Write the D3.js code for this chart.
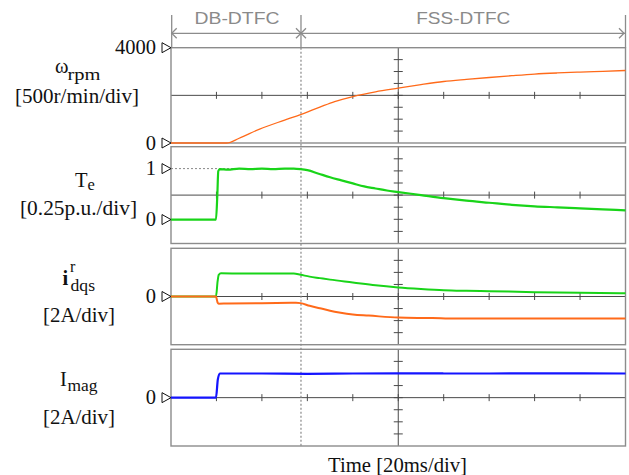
<!DOCTYPE html>
<html>
<head>
<meta charset="utf-8">
<script src="https://cdn.jsdelivr.net/npm/d3@7"></script>
<style>
  html, body { margin: 0; padding: 0; background: #fff; }
  svg { display: block; }
</style>
</head>
<body>
<svg id="chart" width="629" height="475"></svg>
<script>
// ---------------- data ----------------
const timeDomainMs = [0, 200];          // 10 div x 20 ms
const phaseLabels = ["DB-DTFC", "FSS-DTFC"];
const phaseSwitchMs = 57.2;

// speed (rpm)
const speedT = [0, 24.5, 30, 39, 50, 57, 65.5, 72, 80, 90, 100, 110, 120, 130, 140, 150, 160, 170, 180, 190, 200];
const speedV = [0, 0, 200, 586, 960, 1190, 1506, 1740, 1950, 2150, 2303, 2450, 2581, 2670, 2750, 2825, 2893, 2940, 2977, 3010, 3044];

// electromagnetic torque (p.u.)
const torqueT = [0, 19.8, 20.4, 20.8, 21.5, 25, 30, 35, 40, 45, 50, 54, 57, 60, 65, 70, 75, 80, 85, 90, 95, 100, 110, 120, 130, 140, 150, 160, 170, 180, 190, 200];
const torqueV = [0, 0, 0.5, 0.95, 0.99, 0.98, 1.0, 0.99, 1.0, 0.99, 1.0, 1.0, 0.99, 0.97, 0.9, 0.83, 0.77, 0.71, 0.65, 0.61, 0.57, 0.54, 0.48, 0.42, 0.37, 0.33, 0.29, 0.26, 0.24, 0.22, 0.2, 0.18];

// rotor-frame dq currents (A)
const iqT = [0, 19.8, 20.5, 21, 22, 30, 40, 50, 54, 57, 61, 65.5, 70, 80, 90, 100, 110, 120, 130, 140, 160, 180, 200];
const iqV = [0, 0, 2.5, 3.6, 3.85, 3.82, 3.8, 3.8, 3.8, 3.6, 3.3, 3.05, 2.8, 2.33, 1.85, 1.5, 1.25, 1.05, 0.95, 0.88, 0.72, 0.62, 0.55];
const idT = [0, 19.8, 20.5, 21, 25, 40, 55, 57, 61, 65.5, 70, 74, 80, 87, 100, 115, 125, 200];
const idV = [0, 0, -1.0, -1.2, -1.15, -1.1, -1.05, -1.1, -1.55, -1.95, -2.35, -2.65, -3.0, -3.17, -3.5, -3.58, -3.67, -3.67];

// magnetizing current (A)
const imagT = [0, 19.8, 20.6, 21.5, 40, 60, 80, 100, 120, 140, 160, 180, 200];
const imagV = [0, 0, 3.0, 4.0, 4.0, 3.95, 4.0, 4.02, 4.0, 4.0, 4.02, 4.03, 4.0];

// y ranges of each panel (units)
const speedDomain = [0, 4000];
const torqueDomain = [-0.47, 1.43];
const currentDomain = [-8, 8];

// level markers
const speedMarks = [4000, 0];
const torqueMarks = [1, 0];
const currentMarks = [0];
const imagMarks = [0];

// ---------------- layout ----------------
const svg = d3.select("#chart");
const X0 = 171, X1 = 625.5;
const x = d3.scaleLinear().domain(timeDomainMs).range([X0, X1]);

const panels = [
  { top: 47.7, bottom: 143, domain: speedDomain, marks: speedMarks },
  { top: 146.7, bottom: 243.5, domain: torqueDomain, marks: torqueMarks },
  { top: 248.3, bottom: 344.7, domain: currentDomain, marks: currentMarks },
  { top: 349.3, bottom: 446, domain: currentDomain, marks: imagMarks }
];
panels.forEach(p => { p.y = d3.scaleLinear().domain(p.domain).range([p.bottom, p.top]); });

const BORDER = "#8c8c8c", AXIS = "#4a4a4a";
const ORANGE = "#ff6a1a", GREEN = "#19d419", BLUE = "#1414ff";
const SERIF = "'Liberation Serif', 'Times New Roman', serif";
const SANS = "'Liberation Sans', Arial, sans-serif";

// header: phase annotations
const hdr = svg.append("g").attr("stroke", BORDER).attr("fill", "none").attr("stroke-width", 1.3);
const xs = x(phaseSwitchMs);
[X0 + 0.7, xs, X1].forEach(v => hdr.append("line").attr("x1", v).attr("x2", v).attr("y1", 15).attr("y2", 47.7));
hdr.append("line").attr("x1", X0 + 0.7).attr("x2", X1).attr("y1", 33.3).attr("y2", 33.3);
const ah = (tipX, dir) => hdr.append("path")
  .attr("d", `M${tipX + dir * 5},${33.3 - 5} L${tipX},33.3 L${tipX + dir * 5},${33.3 + 5}`);
ah(X0 + 0.7, 1); ah(xs, -1); ah(xs, 1); ah(X1 - 1.5, -1);

svg.append("text").attr("x", (X0 + xs) / 2 + 1).attr("y", 24.3)
  .attr("text-anchor", "middle").attr("font-family", SANS).attr("font-size", 16.5)
  .attr("fill", "#8a8a8a").attr("textLength", 85).attr("lengthAdjust", "spacingAndGlyphs")
  .text(phaseLabels[0]);
svg.append("text").attr("x", (xs + X1) / 2).attr("y", 24.3)
  .attr("text-anchor", "middle").attr("font-family", SANS).attr("font-size", 16.5)
  .attr("fill", "#8a8a8a").attr("textLength", 94).attr("lengthAdjust", "spacingAndGlyphs")
  .text(phaseLabels[1]);

// panels: frames and axes
const xTicks = d3.range(11).map(i => timeDomainMs[0] + i * (timeDomainMs[1] - timeDomainMs[0]) / 10);
const xMid = x((timeDomainMs[0] + timeDomainMs[1]) / 2);
panels.forEach(p => {
  const g = svg.append("g");
  const yMid = (p.top + p.bottom) / 2;
  g.append("line").attr("x1", X0).attr("x2", X1).attr("y1", yMid).attr("y2", yMid)
    .attr("stroke", AXIS).attr("stroke-width", 1);
  g.append("line").attr("x1", xMid).attr("x2", xMid).attr("y1", p.top).attr("y2", p.bottom)
    .attr("stroke", AXIS).attr("stroke-width", 1);
  xTicks.slice(1, -1).forEach(t => {
    g.append("line").attr("x1", x(t)).attr("x2", x(t)).attr("y1", yMid - 3.5).attr("y2", yMid + 3.5)
      .attr("stroke", AXIS).attr("stroke-width", 1);
  });
  d3.range(1, 8).forEach(k => {
    const yy = p.top + k * (p.bottom - p.top) / 8;
    g.append("line").attr("x1", xMid - 4.5).attr("x2", xMid + 4.5).attr("y1", yy).attr("y2", yy)
      .attr("stroke", AXIS).attr("stroke-width", 1);
  });
  g.append("rect").attr("x", X0).attr("y", p.top).attr("width", X1 - X0).attr("height", p.bottom - p.top)
    .attr("fill", "none").attr("stroke", BORDER).attr("stroke-width", 1.4);
  p.marks.forEach(m => {
    const yy = p.y(m);
    g.append("path").attr("d", `M162,${yy - 5} L171,${yy} L162,${yy + 5} Z`)
      .attr("fill", "#fff").attr("stroke", "#111").attr("stroke-width", 1);
    g.append("text").attr("x", 156).attr("y", yy + 6.5).attr("text-anchor", "end")
      .attr("font-family", SERIF).attr("font-size", 20.5).attr("fill", "#111").text(m);
  });
});

// dotted reference at torque = 1 and dotted phase switch line
svg.append("line").attr("x1", X0).attr("x2", xs).attr("y1", panels[1].y(1)).attr("y2", panels[1].y(1))
  .attr("stroke", "#888").attr("stroke-width", 1).attr("stroke-dasharray", "2,2");
svg.append("line").attr("x1", xs).attr("x2", xs).attr("y1", 47.7).attr("y2", 447)
  .attr("stroke", "#888").attr("stroke-width", 1.2).attr("stroke-dasharray", "2,2");

// traces
function trace(p, T, V, color, w) {
  const line = d3.line().x((d, i) => x(T[i])).y(d => p.y(d)).curve(d3.curveMonotoneX);
  svg.append("path").datum(V).attr("d", line).attr("fill", "none")
    .attr("stroke", color).attr("stroke-width", w).attr("stroke-linejoin", "round");
}
trace(panels[0], speedT, speedV, ORANGE, 1.3);
trace(panels[1], torqueT, torqueV, GREEN, 2.2);
trace(panels[2], iqT, iqV, GREEN, 2);
trace(panels[2], idT, idV, ORANGE, 2);
trace(panels[3], imagT, imagV, BLUE, 2.2);

// left labels
function lbl(xp, yp, txt, opts = {}) {
  const t = svg.append("text").attr("x", xp).attr("y", yp)
    .attr("text-anchor", opts.anchor || "middle").attr("font-family", SERIF)
    .attr("font-size", opts.size || 20.5).attr("fill", "#111")
    .attr("font-weight", opts.weight || "normal").text(txt);
  if (opts.len) t.attr("textLength", opts.len).attr("lengthAdjust", "spacingAndGlyphs");
  return t;
}
// omega_rpm
lbl(55, 73, "ω", { anchor: "start" });
lbl(67.5, 79.5, "rpm", { anchor: "start", size: 16.5, len: 33 });
lbl(77, 103, "[500r/min/div]", { len: 124 });
// T_e
lbl(75, 186.5, "T", { anchor: "start" });
lbl(87.5, 190, "e", { anchor: "start", size: 16.5 });
lbl(78.5, 215, "[0.25p.u./div]", { len: 117 });
// i^r_dqs
lbl(62.5, 285, "i", { anchor: "start", weight: "bold" });
lbl(70, 271.5, "r", { anchor: "start", size: 16 });
lbl(70.5, 290.5, "dqs", { anchor: "start", size: 16, len: 24.5 });
lbl(79, 322, "[2A/div]", { len: 72 });
// I_mag
lbl(60, 386, "I", { anchor: "start" });
lbl(67.5, 391, "mag", { anchor: "start", size: 16.5, len: 30 });
lbl(79, 424, "[2A/div]", { len: 72 });

// time label
lbl(397.5, 471.5, "Time [20ms/div]", { len: 139 });
</script>
</body>
</html>
